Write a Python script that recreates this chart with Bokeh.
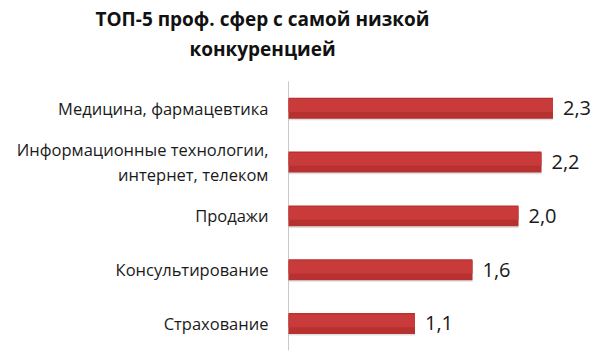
from bokeh.plotting import figure
from bokeh.models import ColumnDataSource, Range1d, Label
from bokeh.core.properties import value
from bokeh.embed import file_html
from bokeh.resources import INLINE

# Data (top to bottom)
categories = [
    "Медицина, фармацевтика",
    "Информационные технологии,\nинтернет, телеком",
    "Продажи",
    "Консультирование",
    "Страхование",
]
values = [2.3, 2.2, 2.0, 1.6, 1.1]
title_lines = ["ТОП-5 проф. сфер с самой низкой", "конкуренцией"]

n = len(categories)
ypos = [n - 1 - i for i in range(n)]
labels = [f"{v:.1f}".replace(".", ",") for v in values]
zeros = [0.0] * n
source = ColumnDataSource(dict(cat=categories, y=ypos, val=values, lab=labels, zero=zeros))
shadow_src = ColumnDataSource(dict(y=[v - 0.03 for v in ypos], val=values, zero=zeros))
hl_src = ColumnDataSource(dict(y=[v + 0.05 for v in ypos], val=values, zero=zeros))

FONT = "Open Sans"

p = figure(
    width=600, height=358,
    x_range=Range1d(-2.504, 2.713), y_range=Range1d(-0.651, 6.003),
    output_backend="svg", toolbar_location=None, min_border=0,
    x_axis_location=None, y_axis_location=None, title=None,
)
p.outline_line_color = None
p.xgrid.visible = False
p.ygrid.visible = False
p.background_fill_color = "white"
p.border_fill_color = "white"

# axis line along the category band
p.segment(x0=0, x1=0, y0=min(ypos) - 0.5, y1=max(ypos) + 0.5,
          line_color="#c8c8c8", line_width=1)

# shadow
p.hbar(y="y", right="val", left="zero", height=0.39, source=shadow_src,
       fill_color="#bbbbbb", fill_alpha=0.45, line_color=None)
# main bar
p.hbar(y="y", right="val", left="zero", height=0.39, source=source,
       fill_color="#b83131", line_color=None)
# lighter upper part
p.hbar(y="y", right="val", left="zero", height=0.24, source=hl_src,
       fill_color="#c93a3a", line_color=None)

# value labels
p.text(x="val", y="y", text="lab", source=source, x_offset=10,
       text_baseline="middle", text_align="left",
       text_font=value(FONT), text_font_size="20px", text_color="#1a1a1a")

# category labels
p.text(x="zero", y="y", text="cat", source=source, x_offset=-20,
       text_baseline="middle", text_align="right", text_line_height=1.1,
       text_font=value(FONT), text_font_size="16.5px", text_color="#1a1a1a")

# title
for i, line in enumerate(title_lines):
    p.add_layout(Label(
        x=262, y=358 - 18 - 30 * i, x_units="screen", y_units="screen",
        text=line, text_align="center", text_baseline="middle",
        text_font=FONT, text_font_size="19px", text_font_style="bold",
        text_color="#111111",
    ))

open("out.html", "w").write(file_html(p, INLINE))
